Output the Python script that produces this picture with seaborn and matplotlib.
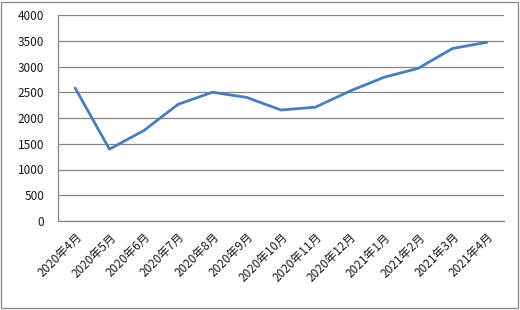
import matplotlib
matplotlib.use("Agg")
import matplotlib.pyplot as plt
import seaborn as sns
import pandas as pd
from matplotlib.patches import Rectangle

months = ["2020年4月", "2020年5月", "2020年6月", "2020年7月", "2020年8月", "2020年9月",
          "2020年10月", "2020年11月", "2020年12月", "2021年1月", "2021年2月", "2021年3月", "2021年4月"]
values = [2580, 1395, 1755, 2265, 2500, 2400, 2155, 2210, 2520, 2790, 2965, 3350, 3470]
yticks = [0, 500, 1000, 1500, 2000, 2500, 3000, 3500, 4000]

sns.set_theme(style="white")
plt.rcParams['font.family'] = ['Noto Sans CJK SC', 'DejaVu Sans']

df = pd.DataFrame({"month": months, "value": values, "pos": range(len(months))})

fig = plt.figure(figsize=(5.2, 3.1), dpi=100)
ax = fig.add_axes([58/520, 1-221/310, 446/520, 206/310])

sns.lineplot(data=df, x="pos", y="value", ax=ax, color="#4A7EBB", linewidth=2.0)

ax.set_xlim(-0.5, len(months) - 0.5)
ax.set_ylim(0, 4000)
ax.set_yticks(yticks)
ax.set_yticklabels([str(v) for v in yticks], fontsize=8.5, color="#1a1a1a")
ax.set_xticks(range(len(months)))
ax.set_xticklabels(months, rotation=45, ha="right", rotation_mode="anchor", fontsize=8.5, color="#1a1a1a")
ax.tick_params(axis="y", length=0, pad=10)
ax.tick_params(axis="x", length=0, pad=7)
ax.yaxis.grid(True, color="#868686", linewidth=0.9)
ax.xaxis.grid(False)
ax.set_xlabel("")
ax.set_ylabel("")
for s in ["top", "right"]:
    ax.spines[s].set_visible(False)
for s in ["left", "bottom"]:
    ax.spines[s].set_color("#868686")
    ax.spines[s].set_linewidth(0.9)

fig.patches.append(Rectangle((1/520, 2/310), 517/520, 306/310, transform=fig.transFigure,
                             fill=False, edgecolor="#868686", linewidth=0.9))

fig.savefig("out.png", dpi=100)
